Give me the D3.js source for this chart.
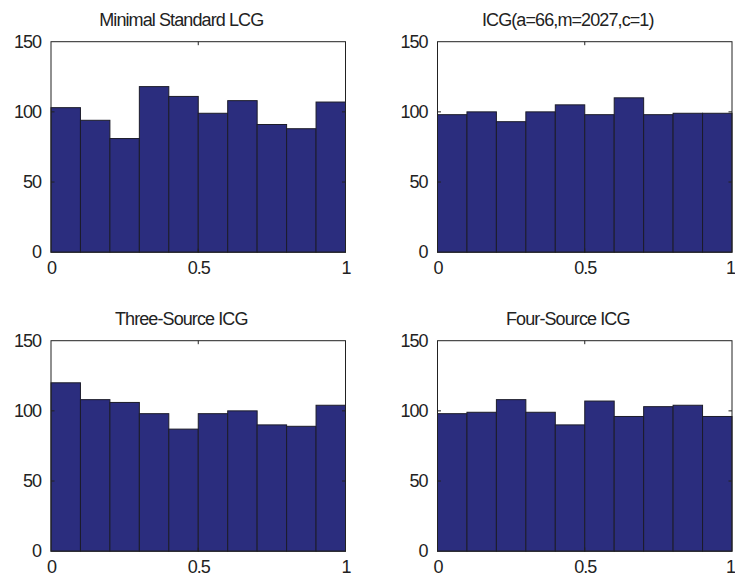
<!DOCTYPE html>
<html>
<head>
<meta charset="utf-8">
<script src="https://cdn.jsdelivr.net/npm/d3@7"></script>
<style>
  body { margin: 0; background: #fff; }
  svg text { font-family: "Liberation Sans", Arial, sans-serif; fill: #222; }
</style>
</head>
<body>
<svg id="chart" width="735" height="580"></svg>
<script>
// bin starts (width 0.1) and counts per histogram
const binStarts = [0, 0.1, 0.2, 0.3, 0.4, 0.5, 0.6, 0.7, 0.8, 0.9];
const binWidth = 0.1;
const minimalLCG = [103, 94, 81, 118, 111, 99, 108, 91, 88, 107];
const icg66 = [98, 100, 93, 100, 105, 98, 110, 98, 99, 99];
const threeSource = [120, 108, 106, 98, 87, 98, 100, 90, 89, 104];
const fourSource = [98, 99, 108, 99, 90, 107, 96, 103, 104, 96];
const titles = ['Minimal Standard LCG', 'ICG(a=66,m=2027,c=1)', 'Three-Source ICG', 'Four-Source ICG'];
const yTicks = [0, 50, 100, 150];
const xTicks = [0, 0.5, 1];

const series = [minimalLCG, icg66, threeSource, fourSource];

const svg = d3.select('#chart');
const plotW = 294.5, plotH = 210.5;
const origins = [
  { left: 51, top: 41.7 },
  { left: 437.5, top: 41.7 },
  { left: 51, top: 340.7 },
  { left: 437.5, top: 340.7 }
];

series.forEach((counts, i) => {
  const o = origins[i];
  const x = d3.scaleLinear().domain([0, 1]).range([0, plotW]);
  const y = d3.scaleLinear().domain([0, 150]).range([plotH, 0]);

  const g = svg.append('g')
    .attr('transform', `translate(${o.left},${o.top})`);

  // bars
  g.selectAll('.bar')
    .data(binStarts.map((b, k) => ({ b: b, c: counts[k] })))
    .enter().append('rect')
    .attr('class', 'bar')
    .attr('x', d => x(d.b))
    .attr('y', d => y(d.c))
    .attr('width', x(binWidth) - x(0))
    .attr('height', d => y(0) - y(d.c))
    .attr('fill', '#2b2d7e')
    .attr('stroke', '#1c1c2a')
    .attr('stroke-width', 1);

  // box
  g.append('rect')
    .attr('x', 0).attr('y', 0)
    .attr('width', plotW).attr('height', plotH)
    .attr('fill', 'none')
    .attr('stroke', '#222')
    .attr('stroke-width', 1);

  // inside ticks on all four sides
  const tl = 3.5;
  yTicks.slice(1, -1).forEach(t => {
    g.append('line').attr('x1', 0).attr('x2', tl).attr('y1', y(t)).attr('y2', y(t)).attr('stroke', '#222');
    g.append('line').attr('x1', plotW).attr('x2', plotW - tl).attr('y1', y(t)).attr('y2', y(t)).attr('stroke', '#222');
  });
  xTicks.slice(1, -1).forEach(t => {
    g.append('line').attr('x1', x(t)).attr('x2', x(t)).attr('y1', 0).attr('y2', tl).attr('stroke', '#222');
    g.append('line').attr('x1', x(t)).attr('x2', x(t)).attr('y1', plotH).attr('y2', plotH - tl).attr('stroke', '#222');
  });

  // tick labels
  g.append('g')
    .call(d3.axisLeft(y).tickValues(yTicks).tickSize(0).tickPadding(10).tickFormat(d3.format('')))
    .call(a => a.select('.domain').remove())
    .selectAll('text')
    .attr('font-size', 18)
    .attr('letter-spacing', -1)
    .attr('fill', '#222');

  g.append('g')
    .attr('transform', `translate(0,${plotH})`)
    .call(d3.axisBottom(x).tickValues(xTicks).tickSize(0).tickPadding(9).tickFormat(d3.format('')))
    .call(a => a.select('.domain').remove())
    .selectAll('text')
    .attr('font-size', 18)
    .attr('letter-spacing', -1)
    .attr('dx', d => (d === 1 && o.left > 300) ? -2 : 0)
    .attr('fill', '#222');

  // title
  g.append('text')
    .attr('x', plotW / 2 - 17)
    .attr('y', -15.5)
    .attr('text-anchor', 'middle')
    .attr('font-size', 18)
    .attr('letter-spacing', -0.9)
    .text(titles[i]);
});
</script>
</body>
</html>
